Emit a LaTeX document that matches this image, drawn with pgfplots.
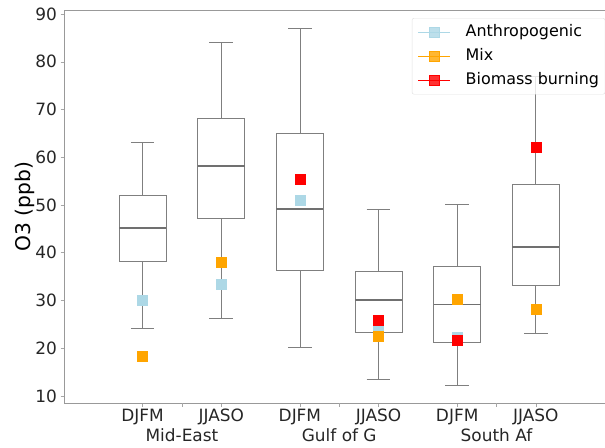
\documentclass[border=0pt]{standalone}
\usepackage{fontspec}
\setmainfont{DejaVu Sans}
\usepackage{pgfplots}
\pgfplotsset{compat=1.18}
\definecolor{boxgray}{HTML}{7F7F7F}
\definecolor{medgray}{HTML}{707070}
\definecolor{anth}{HTML}{ADD8E6}
\definecolor{mixc}{HTML}{FFA500}
\definecolor{bbc}{HTML}{FF0000}
\pgfplotsset{
  boxline/.style={draw=boxgray, line width=0.8bp, mark=none, unbounded coords=jump, forget plot},
  medline/.style={draw=medgray, line width=1.6bp, mark=none, unbounded coords=jump, forget plot},
  longlegend/.style={legend image code/.code={\draw[mark repeat=2,mark phase=2,##1] plot coordinates {(0bp,0bp) (16bp,0bp) (32bp,0bp)};}}}
\begin{document}
\begin{tikzpicture}
\begin{axis}[
  scale only axis, width=541bp, height=393bp,
  xmin=0, xmax=6.88, ymin=8.53, ymax=90.84,
  separate axis lines,
  axis x line*=box, axis y line*=left,
  axis line style={draw=gray!80, line width=0.6pt},
  /pgf/number format/assume math mode=true,
  tick label style={font=\fontsize{17}{20}\selectfont, text=black!85},
  ytick={10,20,...,90},
  xtick={1,2,3,4,5,6},
  xticklabels={DJFM,JJASO,DJFM,JJASO,DJFM,JJASO},
  extra x ticks={1.5,3.5,5.5},
  extra x tick labels={Mid-East,Gulf of G,South Af},
  extra x tick style={xticklabel style={yshift=-20bp}},
  xtick pos=bottom, ytick pos=left,
  tick align=outside,
  major tick length=3.5bp,
  tick style={draw=gray!70, line width=0.5pt},
  xticklabel style={yshift=1bp},
  ylabel={\fontsize{20.3}{24}\selectfont O3 (ppb)},
  every axis y label/.style={at={(axis description cs:0,0.5)}, xshift=-39bp, rotate=90, anchor=center},
  legend style={at={(axis description cs:0.643,0.9796)}, anchor=north west,
    draw=gray!25, rounded corners=2bp, fill=white, fill opacity=0.8, text opacity=1,
    font=\fontsize{16}{19}\selectfont, row sep=8bp, column sep=15bp, inner xsep=6bp, inner ysep=6bp,
    nodes={inner sep=0pt, text height=12bp, text depth=4bp}},
  legend cell align=left,
]
% Mid-East DJFM
\addplot[boxline] coordinates {(0.7,38.1)(1.3,38.1)(1.3,52.0)(0.7,52.0)(0.7,38.1) (1,nan) (1,52.0)(1,63.1) (1,nan) (0.85,63.1)(1.15,63.1) (1,nan) (1,38.1)(1,24.2) (1,nan) (0.85,24.2)(1.15,24.2)};
% Mid-East JJASO
\addplot[boxline] coordinates {(1.7,47.1)(2.3,47.1)(2.3,68.1)(1.7,68.1)(1.7,47.1) (2,nan) (2,68.1)(2,84.0) (2,nan) (1.85,84.0)(2.15,84.0) (2,nan) (2,47.1)(2,26.2) (2,nan) (1.85,26.2)(2.15,26.2)};
% Gulf DJFM
\addplot[boxline] coordinates {(2.7,36.2)(3.3,36.2)(3.3,65.0)(2.7,65.0)(2.7,36.2) (3,nan) (3,65.0)(3,87.0) (3,nan) (2.85,87.0)(3.15,87.0) (3,nan) (3,36.2)(3,20.2) (3,nan) (2.85,20.2)(3.15,20.2)};
% Gulf JJASO
\addplot[boxline] coordinates {(3.7,23.3)(4.3,23.3)(4.3,36.0)(3.7,36.0)(3.7,23.3) (4,nan) (4,36.0)(4,49.1) (4,nan) (3.85,49.1)(4.15,49.1) (4,nan) (4,23.3)(4,13.4) (4,nan) (3.85,13.4)(4.15,13.4)};
% South Af DJFM
\addplot[boxline] coordinates {(4.7,21.2)(5.3,21.2)(5.3,37.1)(4.7,37.1)(4.7,21.2) (5,nan) (5,37.1)(5,50.2) (5,nan) (4.85,50.2)(5.15,50.2) (5,nan) (5,21.2)(5,12.2) (5,nan) (4.85,12.2)(5.15,12.2)};
% South Af JJASO
\addplot[boxline] coordinates {(5.7,33.2)(6.3,33.2)(6.3,54.3)(5.7,54.3)(5.7,33.2) (6,nan) (6,54.3)(6,77.0) (6,nan) (5.85,77.0)(6.15,77.0) (6,nan) (6,33.2)(6,23.1) (6,nan) (5.85,23.1)(6.15,23.1)};
% medians
\addplot[medline] coordinates {(0.7,45.2)(1.3,45.2) (1,nan) (1.7,58.2)(2.3,58.2) (2,nan) (2.7,49.2)(3.3,49.2) (3,nan) (3.7,30.1)(4.3,30.1) (4,nan) (4.7,29.2)(5.3,29.2) (5,nan) (5.7,41.2)(6.3,41.2)};

\addplot[only marks, mark=square*, mark size=5bp, color=anth, forget plot] coordinates {(1,30.1) (2,33.5) (3,51.0) (4,24.2) (5,22.4)};
\addplot[only marks, mark=square*, mark size=5bp, color=mixc, forget plot] coordinates {(1,18.4) (2,38.1) (4,22.6) (5,30.2) (6,28.2)};
\addplot[only marks, mark=square*, mark size=5bp, color=bbc, forget plot] coordinates {(3,55.5) (4,25.8) (5,21.7) (6,62.1)};

\addlegendimage{longlegend, anth, line width=0.6pt, mark=square*, mark size=5bp, mark options={solid, fill=anth, draw=anth}}
\addlegendentry{Anthropogenic}
\addlegendimage{longlegend, mixc, line width=0.6pt, mark=square*, mark size=5bp, mark options={solid, fill=mixc, draw=mixc}}
\addlegendentry{Mix}
\addlegendimage{longlegend, bbc, line width=0.6pt, mark=square*, mark size=5bp, mark options={solid, fill=bbc, draw=bbc}}
\addlegendentry{Biomass burning}
\end{axis}
\pgfresetboundingbox
\path[use as bounding box] ([xshift=-64bp,yshift=-45bp]current axis.south west) rectangle ([yshift=10bp]current axis.north east);
\end{tikzpicture}
\end{document}
